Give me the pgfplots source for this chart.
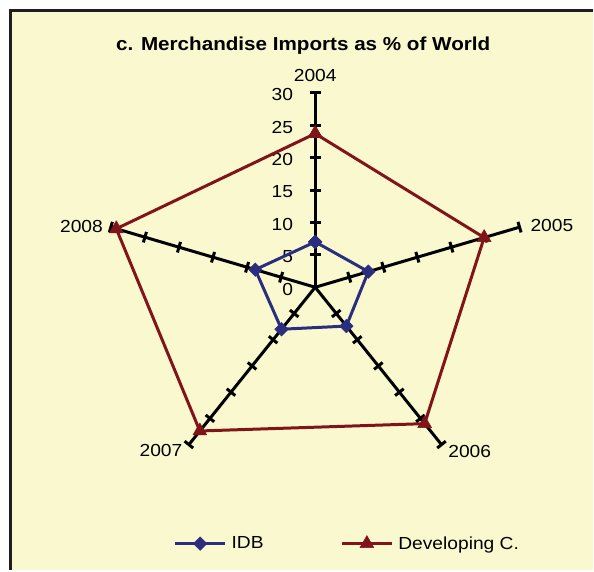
\documentclass[border=0pt]{standalone}
\usepackage{fontspec}
\setmainfont{Liberation Sans}
\usepackage{graphicx}
\usepackage{pgfplots}
\usepgfplotslibrary{polar}
\pgfplotsset{compat=1.18}
\definecolor{bgyel}{RGB}{250,248,206}
\definecolor{idb}{RGB}{43,45,125}
\definecolor{dev}{RGB}{128,20,24}
\definecolor{framec}{RGB}{30,30,30}
\newcommand{\sx}[1]{\scalebox{1.1}[1]{#1}}
\newcommand{\lbl}{\fontsize{17.5}{20}\selectfont}

\begin{document}
\begin{tikzpicture}
\begin{axis}[
  width=594pt, height=571pt, scale only axis,
  xmin=-44.01, xmax=38.72, ymin=-43.54, ymax=44.31,
  axis lines=none, clip=false,
  legend columns=2,
  legend style={draw=none, fill=none, at={(rel axis cs:0.2930,0.0455)}, anchor=west,
    inner sep=0pt, font=\lbl, /tikz/every even column/.append style={column sep=75pt}},
  legend image code/.code={\draw[mark repeat=2, mark phase=2, #1] plot coordinates {(0pt,0pt) (25pt,0pt) (50pt,0pt)};},
]
% chart area
\fill[bgyel] (rel axis cs:0.01684,0) rectangle (rel axis cs:1,0.9842);
\draw[framec, line width=3pt] (rel axis cs:0.01852,0) -- (rel axis cs:0.01852,0.98126) -- (rel axis cs:1,0.98126);
\path (rel axis cs:0,0) rectangle (rel axis cs:1,1);

% spokes with ticks every 5
\addplot[forget plot, data cs=polar, black, line width=3pt, mark=|, mark size=5.5pt, mark indices={2,3,4,5,6,7},
  mark options={rotate=90, line width=3pt}]
  coordinates {(90,0) (90,5) (90,10) (90,15) (90,20) (90,25) (90,30)};
\addplot[forget plot, data cs=polar, black, line width=3pt, mark=|, mark size=5.5pt, mark indices={2,3,4,5,6,7},
  mark options={rotate=16.39, line width=3pt}]
  coordinates {(18,0) (18,5) (18,10) (18,15) (18,20) (18,25) (18,30)};
\addplot[forget plot, data cs=polar, black, line width=3pt, mark=|, mark size=5.5pt, mark indices={2,3,4,5,6,7},
  mark options={rotate=-51.26, line width=3pt}]
  coordinates {(-54,0) (-54,5) (-54,10) (-54,15) (-54,20) (-54,25) (-54,30)};
\addplot[forget plot, data cs=polar, black, line width=3pt, mark=|, mark size=5.5pt, mark indices={2,3,4,5,6,7},
  mark options={rotate=51.26, line width=3pt}]
  coordinates {(-126,0) (-126,5) (-126,10) (-126,15) (-126,20) (-126,25) (-126,30)};
\addplot[forget plot, data cs=polar, black, line width=3pt, mark=|, mark size=5.5pt, mark indices={2,3,4,5,6,7},
  mark options={rotate=-16.39, line width=3pt}]
  coordinates {(162,0) (162,5) (162,10) (162,15) (162,20) (162,25) (162,30)};

% radial tick labels
\pgfplotsinvokeforeach{0,5,10,15,20,25,30}{
  \node[anchor=east, font=\lbl, inner sep=0pt, xshift=-22pt, yshift=-2pt] at (axis cs:0,#1) {\sx{#1}};
}

% series
\addplot[data cs=polar, idb, line width=3pt, mark=square*, mark size=4.8pt,
  mark options={rotate=45, line width=0.5pt}]
  coordinates {(90,7.0) (18,7.8) (-54,7.4) (-126,8.0) (162,8.8) (90,7.0)};
\addlegendentry{\hspace{3pt}\sx{IDB}}
\addplot[data cs=polar, dev, line width=3pt, mark=triangle*, mark size=8pt,
  mark options={line width=0.5pt}]
  coordinates {(90,23.7) (18,24.8) (-54,26.0) (-126,27.4) (162,29.2) (90,23.7)};
\addlegendentry{\hspace{3pt}\sx{Developing C.}}

% category labels
\node[font=\lbl] at (axis cs:0,32.6) {\sx{2004}};
\node[font=\lbl, anchor=west, inner sep=0pt] at (axis cs:30.04,9.54) {\sx{2005}};
\node[font=\lbl, anchor=west, inner sep=0pt] at (axis cs:18.57,-25.4) {\sx{2006}};
\node[font=\lbl, anchor=east, inner sep=0pt] at (axis cs:-18.52,-25.2) {\sx{2007}};
\node[font=\lbl, anchor=east, inner sep=0pt] at (axis cs:-29.62,9.43) {\sx{2008}};

% title
\node[font=\fontsize{18.8}{22}\selectfont\bfseries] at (axis cs:-1.67,37.28)
  {\sx{c. Merchandise Imports as \% of World}};
\end{axis}
\end{tikzpicture}
\end{document}
